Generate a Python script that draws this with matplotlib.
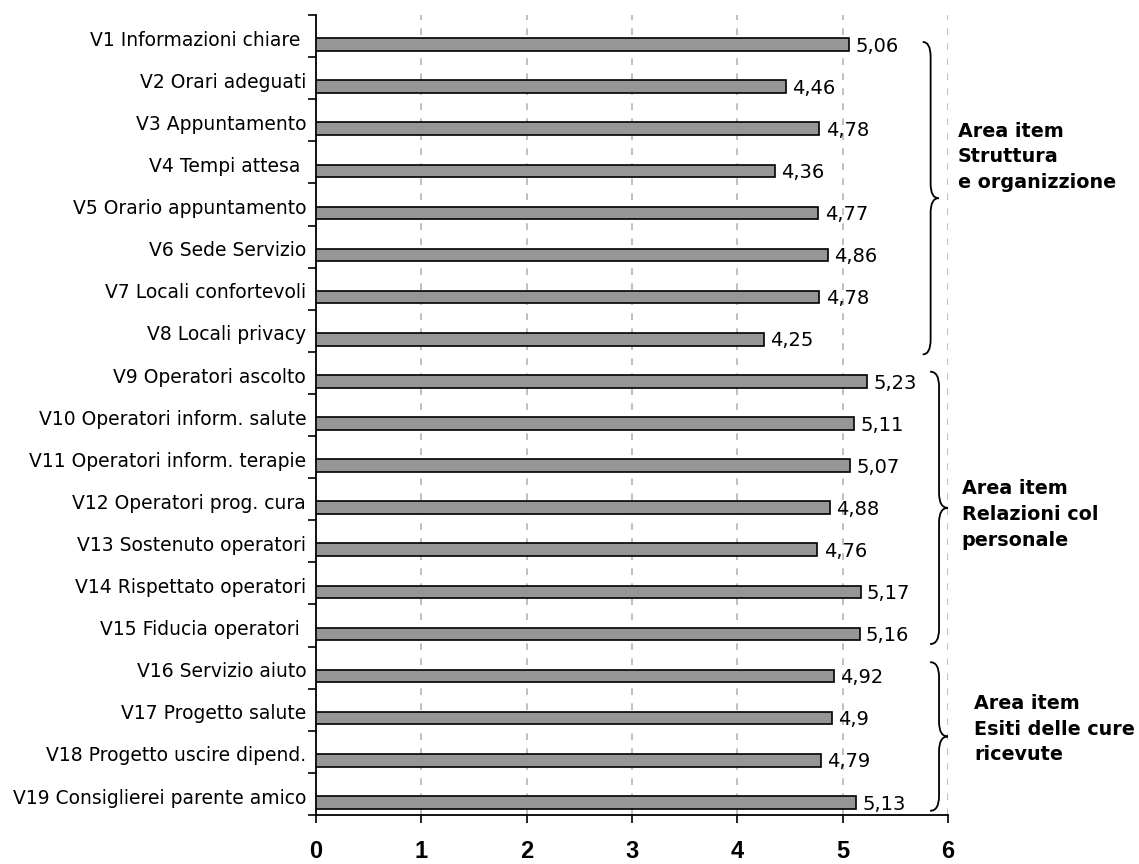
import matplotlib
matplotlib.use("Agg")
import matplotlib.pyplot as plt
from matplotlib.path import Path
from matplotlib.patches import PathPatch
import numpy as np

voci = ["V1 Informazioni chiare ", "V2 Orari adeguati", "V3 Appuntamento",
        "V4 Tempi attesa ", "V5 Orario appuntamento", "V6 Sede Servizio",
        "V7 Locali confortevoli", "V8 Locali privacy", "V9 Operatori ascolto",
        "V10 Operatori inform. salute", "V11 Operatori inform. terapie",
        "V12 Operatori prog. cura", "V13 Sostenuto operatori",
        "V14 Rispettato operatori", "V15 Fiducia operatori ",
        "V16 Servizio aiuto", "V17 Progetto salute",
        "V18 Progetto uscire dipend.", "V19 Consiglierei parente amico"]
medie = [5.06, 4.46, 4.78, 4.36, 4.77, 4.86, 4.78, 4.25, 5.23, 5.11,
         5.07, 4.88, 4.76, 5.17, 5.16, 4.92, 4.9, 4.79, 5.13]

aree = ["Area item\nStruttura\ne organizzione",
        "Area item\nRelazioni col\npersonale",
        "Area item\nEsiti delle cure\nricevute"]

font_lab = ["DejaVu Sans"]

def graffa(ax, x0, x1, y0, y1, d=0.35):
    # parentesi graffa verticale con la punta verso destra
    ym = (y0 + y1) / 2
    xm = (x0 + x1) / 2
    verts = [(x0, y0), (xm, y0), (xm, y0 + d),
             (xm, ym - d), (xm, ym), (x1, ym),
             (xm, ym), (xm, ym + d),
             (xm, y1 - d), (xm, y1), (x0, y1)]
    codes = [Path.MOVETO, Path.CURVE3, Path.CURVE3,
             Path.LINETO, Path.CURVE3, Path.CURVE3,
             Path.CURVE3, Path.CURVE3,
             Path.LINETO, Path.CURVE3, Path.CURVE3]
    ax.add_patch(PathPatch(Path(verts, codes), fill=False, lw=1.3,
                           ec="black", clip_on=False))

fig = plt.figure(figsize=(11.39, 8.64), dpi=100)
ax = fig.add_axes([0.2774, 0.0567, 0.8323 - 0.2774, 0.9826 - 0.0567])

pos = np.arange(len(voci))
ax.barh(pos + 0.2, medie, height=0.3, color="#969696", edgecolor="black",
        linewidth=1.2, zorder=3)

for p, v in zip(pos, medie):
    ax.text(v + 0.06, p + 0.24, f"{v:g}".replace(".", ","), va="center",
            ha="left", fontsize=14, family=font_lab)

ax.set_xlim(0, 6)
ax.set_ylim(len(voci) - 0.5, -0.5)

ax.set_xticks(range(7))
ax.set_xticklabels([str(i) for i in range(7)], fontsize=17,
                   fontweight="bold",
                   family=["Liberation Sans Narrow", "Liberation Sans"])
ax.tick_params(axis="x", length=6, width=1.2, pad=12, direction="out")

ax.set_yticks(pos + 0.05)
ax.set_yticklabels(voci, fontsize=13.5, family=font_lab)
ax.tick_params(axis="y", which="major", length=0, pad=7)
ax.set_yticks(np.arange(-0.5, len(voci)), minor=True)
ax.tick_params(axis="y", which="minor", length=6, width=1.2)

for x in range(1, 7):
    ax.axvline(x, color="#b4b4b4", lw=1.2, ls=(0, (4, 5)), zorder=1)

for s in ["top", "right"]:
    ax.spines[s].set_visible(False)
for s in ["left", "bottom"]:
    ax.spines[s].set_linewidth(1.3)

# graffe e testi delle aree
graffa(ax, 5.76, 5.91, 0.14, 7.56)
graffa(ax, 5.83, 6.0, 7.97, 14.44)
graffa(ax, 5.83, 6.0, 14.87, 18.4)

for x, y, testo in [(6.095, 2.87, aree[0]), (6.13, 11.36, aree[1]),
                    (6.25, 16.46, aree[2])]:
    ax.text(x, y, testo, fontsize=13.8, fontweight="bold", va="center",
            ha="left", linespacing=1.45, family=font_lab)

fig.savefig("out.png", dpi=100)
